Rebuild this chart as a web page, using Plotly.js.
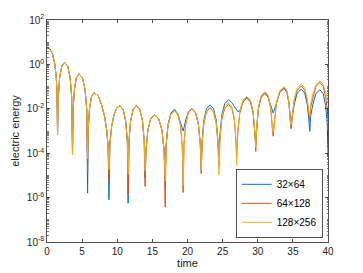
<!DOCTYPE html>
<html>
<head>
<meta charset="utf-8">
<script src="https://cdn.plot.ly/plotly-3.0.1.min.js"></script>
<style>html,body{margin:0;padding:0;background:#fff;}#chart{width:363px;height:273px;}</style>
</head>
<body>
<div id="chart"></div>
<script>
var time = [
0, 0.4, 0.8, 1.1, 1.3, 1.42,
1.5,
1.6, 1.8, 2.1, 2.5, 2.95, 3.29, 3.52,
3.63,
3.72, 3.91, 4.18, 4.55, 5.04, 5.41, 5.66,
5.78,
5.87, 6.06, 6.33, 6.7, 7.3, 7.8, 8.2, 8.5, 8.7,
8.82,
8.95, 9.2, 9.55, 9.95, 10.4, 10.86, 11.2, 11.44,
11.55,
11.67, 11.9, 12.25, 12.72, 13.22, 13.59, 13.84,
13.96,
14.09, 14.36, 14.76, 15.3, 15.91, 16.36, 16.67,
16.82,
16.95, 17.22, 17.62, 18.15, 18.64, 19.01, 19.26,
19.38,
19.5, 19.75, 20.11, 20.6, 21.14, 21.55, 21.82,
21.95,
22.08, 22.33, 22.7, 23.2, 23.71, 24.09, 24.34,
24.47,
24.61, 24.88, 25.3, 25.85, 26.31, 26.66, 26.89,
27.0,
27.15, 27.44, 27.87, 28.45, 28.96, 29.34, 29.59,
29.72,
29.85, 30.1, 30.49, 31.0, 31.48, 31.84, 32.08,
32.2,
32.36, 32.67, 33.13, 33.75, 34.15, 34.45, 34.65,
34.75,
34.9, 35.19, 35.62, 36.2, 36.68, 37.04, 37.28,
37.4,
37.55, 37.84, 38.27, 38.85, 39.31, 39.66, 39.9, 40
];

var energy32x64 = [
6.0, 5.0, 2.8, 1.07, 0.31, 0.065,
7e-4,
0.031, 0.257, 0.83, 1.25, 0.83, 0.257, 0.031,
8.5e-5,
9.3e-3, 0.078, 0.25, 0.38, 0.25, 0.078, 9.3e-3,
1.6e-6,
1.3e-3, 0.011, 0.035, 0.054, 0.038, 0.014, 4.5e-3, 1.1e-3, 2e-4,
8e-7,
2.5e-4, 1.6e-3, 5.6e-3, 0.0112, 0.0138, 9.1e-3, 2.8e-3, 3.4e-4,
5.6e-7,
3.5e-4, 2.9e-3, 9.3e-3, 0.0141, 9.3e-3, 2.9e-3, 3.5e-4,
7.9e-6,
1.3e-4, 1.1e-3, 3.5e-3, 5.4e-3, 3.5e-3, 1.1e-3, 1.3e-4,
6.3e-6,
2.3e-4, 1.95e-3, 6.3e-3, 9.5e-3, 5.6e-3, 2.2e-3, 1.26e-3,
1.0e-3,
1.4e-3, 3.2e-3, 6.8e-3, 0.0105, 6.9e-3, 2.1e-3, 2.6e-4,
2e-5,
3.7e-4, 3.1e-3, 0.010, 0.0151, 0.010, 3.1e-3, 3.7e-4,
6.3e-5,
6.3e-4, 5.2e-3, 0.017, 0.0257, 0.019, 0.012, 0.010,
8.9e-3,
7.6e-3, 7.9e-3, 0.019, 0.034, 0.0224, 6.9e-3, 8.3e-4,
2.5e-4,
1.23e-3, 0.0102, 0.033, 0.050, 0.033, 0.0141, 7.9e-3,
6.5e-3,
8.9e-3, 0.020, 0.055, 0.083, 0.055, 0.017, 4e-3,
1.6e-3,
4e-3, 0.0158, 0.051, 0.078, 0.051, 0.0158, 3.2e-3,
9.5e-4,
5e-3, 0.0158, 0.048, 0.072, 0.048, 0.014, 2e-3, 7e-5
];

var energy64x128 = [
6.0, 5.0, 2.8, 1.07, 0.31, 0.065,
7e-4,
0.031, 0.257, 0.83, 1.25, 0.83, 0.257, 0.031,
8.5e-5,
9.3e-3, 0.078, 0.25, 0.38, 0.25, 0.078, 9.3e-3,
1.4e-5,
1.3e-3, 0.011, 0.035, 0.054, 0.038, 0.014, 4.5e-3, 1.1e-3, 2e-4,
5.6e-6,
2.5e-4, 1.6e-3, 5.6e-3, 0.0112, 0.0138, 9.1e-3, 2.8e-3, 3.4e-4,
1.4e-6,
3.5e-4, 2.9e-3, 9.3e-3, 0.0141, 9.3e-3, 2.9e-3, 3.5e-4,
3.2e-6,
1.3e-4, 1.1e-3, 3.5e-3, 5.4e-3, 3.5e-3, 1.1e-3, 1.3e-4,
3.8e-7,
2.0e-4, 1.7e-3, 5.5e-3, 8.3e-3, 5.5e-3, 1.7e-3, 2.0e-4,
1.7e-6,
2.5e-4, 2.0e-3, 6.6e-3, 0.010, 6.6e-3, 2.0e-3, 2.5e-4,
1.2e-5,
2.7e-4, 2.2e-3, 7.2e-3, 0.011, 7.2e-3, 2.2e-3, 2.7e-4,
2.5e-5,
3.9e-4, 3.2e-3, 0.0105, 0.0158, 0.0105, 3.2e-3, 3.9e-4,
7e-5,
7.4e-4, 6.2e-3, 0.020, 0.030, 0.020, 6.2e-3, 7.4e-4,
1.2e-4,
1.3e-3, 0.0107, 0.035, 0.0525, 0.035, 0.0107, 1.3e-3,
5.8e-4,
2.2e-3, 0.018, 0.059, 0.089, 0.059, 0.018, 2.2e-3,
1.26e-3,
4e-3, 0.022, 0.071, 0.107, 0.071, 0.022, 5.6e-3,
2.8e-3,
0.0126, 0.032, 0.102, 0.155, 0.102, 0.035, 0.010, 3.2e-3
];

var energy128x256 = [
6.0, 5.0, 2.8, 1.07, 0.31, 0.065,
7e-4,
0.031, 0.257, 0.83, 1.25, 0.83, 0.257, 0.031,
8.5e-5,
9.3e-3, 0.078, 0.25, 0.38, 0.25, 0.078, 9.3e-3,
5.6e-5,
1.3e-3, 0.011, 0.035, 0.054, 0.038, 0.014, 4.5e-3, 1.1e-3, 2e-4,
1.8e-5,
2.5e-4, 1.6e-3, 5.6e-3, 0.0112, 0.0138, 9.1e-3, 2.8e-3, 3.4e-4,
1.1e-5,
3.5e-4, 2.9e-3, 9.3e-3, 0.0141, 9.3e-3, 2.9e-3, 3.5e-4,
1.6e-5,
1.3e-4, 1.1e-3, 3.5e-3, 5.4e-3, 3.5e-3, 1.1e-3, 1.3e-4,
5.6e-6,
2.0e-4, 1.7e-3, 5.5e-3, 8.3e-3, 5.5e-3, 1.7e-3, 2.0e-4,
3.5e-6,
2.6e-4, 2.1e-3, 6.9e-3, 0.0105, 6.9e-3, 2.1e-3, 2.6e-4,
1.8e-5,
2.9e-4, 2.4e-3, 7.8e-3, 0.0117, 7.8e-3, 2.4e-3, 2.9e-4,
1.1e-5,
4.7e-4, 3.9e-3, 0.0126, 0.019, 0.0126, 3.9e-3, 4.7e-4,
2.8e-5,
8.9e-4, 7.4e-3, 0.024, 0.036, 0.024, 7.4e-3, 8.9e-4,
1.8e-4,
1.5e-3, 0.0123, 0.040, 0.060, 0.040, 0.0123, 1.5e-3,
8.9e-4,
2.5e-3, 0.0204, 0.066, 0.10, 0.066, 0.0204, 2.5e-3,
1.8e-3,
4.5e-3, 0.027, 0.087, 0.132, 0.087, 0.027, 7.9e-3,
4.5e-3,
0.0178, 0.045, 0.12, 0.182, 0.126, 0.063, 0.032, 0.020
];

var seriesNames = ['32\u00d764', '64\u00d7128', '128\u00d7256'];
var xTickVals = [0, 5, 10, 15, 20, 25, 30, 35, 40];
var yTickVals = [1e-8, 1e-6, 1e-4, 1e-2, 1e0, 1e2];
var yTickText = ['10<sup>-8</sup>', '10<sup>-6</sup>', '10<sup>-4</sup>', '10<sup>-2</sup>', '10<sup>0</sup>', '10<sup>2</sup>'];

var colors = ['#0072BD', '#D95319', '#EDB120'];
var ys = [energy32x64, energy64x128, energy128x256];
var traces = ys.map(function (y, i) {
  return {
    x: time, y: y, type: 'scatter', mode: 'lines', name: seriesNames[i],
    line: {color: colors[i], width: 1}
  };
});

var axisColor = '#262626';
var layout = {
  width: 363, height: 273,
  margin: {l: 47, r: 35, t: 20, b: 31, pad: 0},
  paper_bgcolor: '#ffffff', plot_bgcolor: '#ffffff',
  font: {family: 'Liberation Sans, Arial, Helvetica, sans-serif', size: 10, color: axisColor},
  showlegend: true,
  legend: {
    x: 0.982, y: 0.018, xanchor: 'right', yanchor: 'bottom',
    bgcolor: '#ffffff', bordercolor: axisColor, borderwidth: 0.8,
    font: {size: 10, color: '#000000'}, tracegroupgap: 0, itemwidth: 30
  },
  xaxis: {
    range: [0, 40], tickmode: 'array', tickvals: xTickVals,
    ticks: 'inside', ticklen: 3, tickwidth: 0.8, tickcolor: axisColor,
    showline: true, linecolor: axisColor, linewidth: 0.8, mirror: 'ticks',
    showgrid: false, zeroline: false,
    title: {text: 'time', font: {size: 11, color: axisColor}, standoff: 2}
  },
  yaxis: {
    type: 'log', range: [-8, 2], tickmode: 'array', tickvals: yTickVals, ticktext: yTickText,
    ticks: 'inside', ticklen: 3, tickwidth: 0.8, tickcolor: axisColor,
    showline: true, linecolor: axisColor, linewidth: 0.8, mirror: 'ticks',
    showgrid: false, zeroline: false,
    minor: {dtick: 'D1', ticks: 'inside', ticklen: 1.5, tickwidth: 0.6, tickcolor: axisColor, showgrid: false},
    title: {text: 'electric energy', font: {size: 11, color: axisColor}, standoff: 4}
  }
};

Plotly.newPlot('chart', traces, layout, {staticPlot: true, displayModeBar: false});
</script>
</body>
</html>
